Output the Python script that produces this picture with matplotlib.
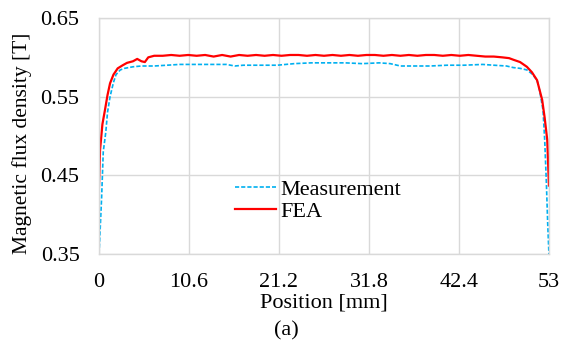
import matplotlib
matplotlib.use('Agg')
import matplotlib.pyplot as plt

plt.rcParams['font.family'] = ['Liberation Serif', 'DejaVu Serif']

# Measurement data (position in mm, flux density in T)
meas_x = [0, 0.3, 0.5, 0.8, 1.0, 1.3, 1.7, 2.0, 2.5, 3.0, 4.0, 5.0, 6.5, 8.0, 9.5,
          11.0, 13.0, 15.0, 16.0, 17.0, 19.0, 21.0, 23.0, 25.0, 27.0, 29.0, 31.0,
          33.0, 34.3, 35.5, 37.0, 39.0, 41.0, 43.0, 45.2, 46.5, 48.0, 48.8, 49.6,
          50.4, 51.0, 51.6, 51.9, 52.3, 52.5, 52.7, 52.85, 53.0]
meas_y = [0.350, 0.420, 0.480, 0.505, 0.530, 0.550, 0.568, 0.578, 0.584, 0.586, 0.588,
          0.589, 0.589, 0.590, 0.591, 0.591, 0.591, 0.591, 0.589, 0.590, 0.590, 0.590,
          0.592, 0.593, 0.593, 0.593, 0.592, 0.593, 0.592, 0.589, 0.589, 0.589, 0.590,
          0.590, 0.591, 0.590, 0.589, 0.587, 0.586, 0.584, 0.579, 0.571, 0.558, 0.533,
          0.495, 0.440, 0.390, 0.350]

# FEA data
fea_x = [0, 0.12, 0.4, 0.7, 1.0, 1.3, 1.7, 2.2, 2.8, 3.3, 4.0, 4.5, 5.0, 5.4, 5.8,
         6.5, 7.5, 8.5, 9.5, 10.5, 11.5, 12.5, 13.5, 14.5, 15.5, 16.5, 17.5, 18.5,
         19.5, 20.5, 21.5, 22.5, 23.5, 24.5, 25.5, 26.5, 27.5, 28.5, 29.5, 30.5,
         31.5, 32.5, 33.5, 34.5, 35.5, 36.5, 37.5, 38.5, 39.5, 40.5, 41.5, 42.5,
         43.5, 44.5, 45.5, 46.5, 47.5, 48.3, 48.8, 49.6, 50.4, 51.0, 51.6, 52.2,
         52.5, 52.8, 53.0]
fea_y = [0.437, 0.482, 0.515, 0.533, 0.552, 0.567, 0.578, 0.586, 0.590, 0.593, 0.595,
         0.598, 0.595, 0.594, 0.600, 0.602, 0.602, 0.603, 0.602, 0.603, 0.602, 0.603,
         0.601, 0.603, 0.601, 0.603, 0.602, 0.603, 0.602, 0.603, 0.602, 0.603, 0.603,
         0.602, 0.603, 0.602, 0.603, 0.602, 0.603, 0.602, 0.603, 0.603, 0.602, 0.603,
         0.602, 0.603, 0.602, 0.603, 0.603, 0.602, 0.603, 0.602, 0.603, 0.602, 0.601,
         0.601, 0.600, 0.599, 0.597, 0.594, 0.588, 0.581, 0.571, 0.546, 0.523, 0.495,
         0.437]

x_ticks = [0, 10.6, 21.2, 31.8, 42.4, 53]
x_tick_labels = ['0', '10.6', '21.2', '31.8', '42.4', '53']
y_ticks = [0.35, 0.45, 0.55, 0.65]

fig = plt.figure(figsize=(5.61, 3.40), dpi=100)
ax = fig.add_axes([0.1765, 0.253, 0.802, 0.694])

ax.plot(meas_x, meas_y, color='#00b0f0', linestyle=(0, (2.5, 1.2)), linewidth=1.2,
        label='Measurement')
ax.plot(fea_x, fea_y, color='#ff0000', linewidth=1.6, label='FEA')

ax.set_xlim(0, 53)
ax.set_ylim(0.35, 0.65)
ax.set_xticks(x_ticks)
ax.set_xticklabels(x_tick_labels)
ax.set_yticks(y_ticks)
ax.set_yticklabels(['%.2f' % v for v in y_ticks])
ax.tick_params(length=0, labelsize=16, pad=14)
ax.grid(True, color='#d9d9d9', linewidth=1)
ax.set_axisbelow(True)
for s in ax.spines.values():
    s.set_color('#d9d9d9')
    s.set_linewidth(1)

ax.set_xlabel('Position [mm]', fontsize=16, labelpad=1)
ax.set_ylabel('Magnetic flux density [T]', fontsize=15.5)
ax.yaxis.set_label_coords(-0.15, 0.47)

ax.legend(loc='center left', bbox_to_anchor=(0.302, 0.2265), frameon=False,
          fontsize=16, handlelength=1.85, handletextpad=0.2, labelspacing=0.05,
          borderpad=0, borderaxespad=0)

fig.text(0.51, 0.027, '(a)', fontsize=16, ha='center', va='center')

fig.savefig('out.png', dpi=100)
